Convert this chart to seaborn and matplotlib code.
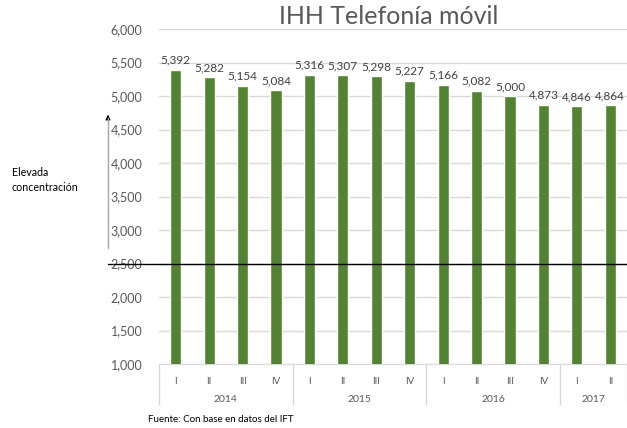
import numpy as np
import pandas as pd
import seaborn as sns
import matplotlib.pyplot as plt
from matplotlib.transforms import blended_transform_factory

# data
years = ['2014', '2015', '2016', '2017']
quarters = ['I', 'II', 'III', 'IV', 'I', 'II', 'III', 'IV',
            'I', 'II', 'III', 'IV', 'I', 'II']
quarters_per_year = [4, 4, 4, 2]
ihh = [5392, 5282, 5154, 5084, 5316, 5307, 5298, 5227,
       5166, 5082, 5000, 4873, 4846, 4864]
threshold = 2500

sns.set_style('white')
plt.rcParams['font.family'] = ['Lato', 'DejaVu Sans']

gray = '#595959'
green = '#548235'

df = pd.DataFrame({'pos': np.arange(len(ihh)), 'ihh': ihh})

fig = plt.figure(figsize=(6.27, 4.28), dpi=100)
ax = fig.add_axes([159 / 627, 1 - 364 / 428, 1 - 159 / 627, (364 - 29) / 428])

sns.barplot(data=df, x='pos', y='ihh', color=green, width=0.33,
            saturation=1, ax=ax, zorder=3)
ax.set_xlim(-0.5, len(ihh) - 0.5)
ax.set_ylim(1000, 6000)
ax.set_yticks(np.arange(1000, 6001, 500))
ax.set_yticklabels([f'{v:,}' for v in range(1000, 6001, 500)])
ax.yaxis.grid(True, color='#d9d9d9', lw=1, zorder=0)
ax.set_axisbelow(True)
ax.tick_params(axis='y', length=0, pad=12, labelsize=9, labelcolor=gray)
ax.set_xlabel('')
ax.set_ylabel('')
for s in ['top', 'right', 'left']:
    ax.spines[s].set_visible(False)
ax.spines['bottom'].set_color('#d9d9d9')

# value labels
for i, v in enumerate(ihh):
    ax.text(i, v + 60, f'{v:,}', ha='center', va='bottom', fontsize=8.5, color='#404040')

# two-level category axis
ax.set_xticks(range(len(quarters)))
ax.set_xticklabels(quarters)
ax.tick_params(axis='x', length=0, pad=9, labelsize=7, labelcolor=gray)
trans = blended_transform_factory(ax.transData, ax.transAxes)
start = 0
bounds = [-0.5]
for yr, n in zip(years, quarters_per_year):
    ax.text(start + (n - 1) / 2, -0.105, yr, transform=trans, ha='center',
            va='center', fontsize=7.5, color=gray)
    start += n
    bounds.append(start - 0.5)
for b in bounds:
    ax.plot([b, b], [0, -0.12], transform=trans, color='#d9d9d9', lw=1, clip_on=False)

# 2500 threshold line and arrow
y_thr = ax.transData.transform((0, threshold))[1] / fig.bbox.height
fig.add_artist(plt.Line2D([108 / 627, 1], [y_thr, y_thr], color='black', lw=1))
fig.add_artist(plt.Line2D([108 / 627, 108 / 627], [1 - 248 / 428, 1 - 118 / 428],
                          color='#a6a6a6', lw=1))
ax.annotate('', xy=(108 / 627, 1 - 112 / 428), xytext=(108 / 627, 1 - 120 / 428),
            xycoords='figure fraction',
            arrowprops=dict(arrowstyle='-|>', color='black', lw=0.8,
                            mutation_scale=7))

fig.text(12 / 627, 1 - 180 / 428, 'Elevada\nconcentración', fontsize=7.7,
         ha='left', va='center', color='black', linespacing=1.5)
fig.text(389 / 627, 1 - 17 / 428, 'IHH Telefonía móvil', fontsize=18,
         ha='center', va='center', color=gray)
fig.text(148 / 627, 1 - 420 / 428, 'Fuente: Con base en datos del IFT',
         fontsize=7, ha='left', va='center', color='black')

fig.savefig('out.png', dpi=100)
